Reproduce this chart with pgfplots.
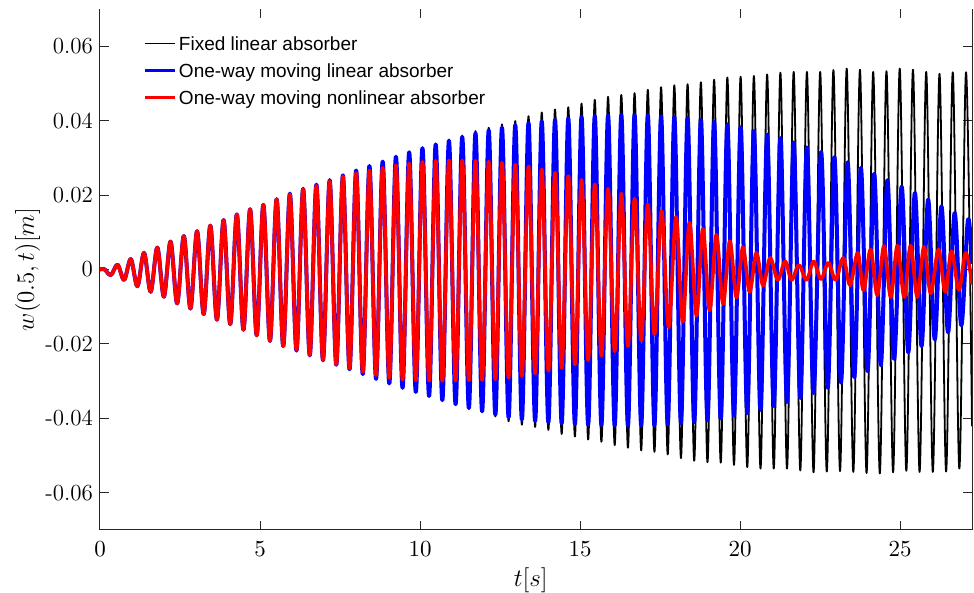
\RequirePackage{fix-cm}
\documentclass[border=0pt]{standalone}
\usepackage{fontspec}
\usepackage{pgfplots}
\pgfplotsset{compat=1.18}
\newfontfamily\legendfont{Liberation Sans}

\begin{document}
\begin{tikzpicture}
\begin{axis}[
  at={(0,0)}, anchor=south west,
  scale only axis, width=436pt, height=260.5pt,
  xmin=0, xmax=27.25, ymin=-0.07, ymax=0.07,
  xtick={0,5,10,15,20,25},
  ytick={-0.06,-0.04,-0.02,0,0.02,0.04,0.06},
  yticklabels={-0.06,-0.04,-0.02,0,0.02,0.04,0.06},
  scaled y ticks=false,
  tick align=inside,
  major tick length=4.5pt,
  axis line style={draw=none},
  every tick/.style={line width=0.5pt, black!85},
  tick label style={font=\fontsize{11.5}{13}\selectfont},
  xticklabel style={yshift=-2.5pt},
  xlabel={$t[s]$}, ylabel={$w(0.5,t)[m]$},
  label style={font=\fontsize{12.5}{14}\selectfont},
  xlabel style={at={(axis description cs:0.494,0)}, anchor=base, yshift=-28.5pt},
  ylabel style={at={(axis description cs:-0.0757,0.5)}, anchor=base},
  legend style={at={(axis description cs:0,1)}, anchor=north west,
    xshift=21.5pt, yshift=-11.9pt, draw=none, fill=none, inner sep=0pt,
    font=\legendfont\fontsize{9.5}{11}\selectfont,
    nodes={inner sep=0.5pt, text height=8pt, text depth=1.2pt},
    row sep=3.3pt, column sep=0.8pt},
  legend cell align=left,
  legend image code/.code={\draw[line cap=butt, #1] (0pt,0pt) -- (15pt,0pt);},
  every axis plot/.append style={smooth, tension=0.55, line join=round, line cap=round},
  after end axis/.code={
    \draw[line width=0.5pt, black!85] (rel axis cs:0,1) -- (rel axis cs:0,0)
      -- (rel axis cs:1,0) -- (rel axis cs:1,1);
  },
]

% fixed linear absorber
\addplot[black, line width=0.9pt, legend image post style={line width=0.6pt}] coordinates {
(0,0)
(0.134,0.0001) (0.341,-0.0015)
(0.548,0.0013) (0.755,-0.0028)
(0.963,0.0028) (1.170,-0.0045)
(1.377,0.0045) (1.584,-0.0060)
(1.791,0.0059) (1.998,-0.0073)
(2.205,0.0075) (2.412,-0.0091)
(2.620,0.0090) (2.827,-0.0105)
(3.034,0.0103) (3.241,-0.0120)
(3.448,0.0118) (3.655,-0.0135)
(3.863,0.0133) (4.070,-0.0147)
(4.277,0.0148) (4.484,-0.0162)
(4.691,0.0162) (4.898,-0.0177)
(5.105,0.0174) (5.312,-0.0192)
(5.520,0.0189) (5.727,-0.0206)
(5.934,0.0204) (6.141,-0.0218)
(6.348,0.0217) (6.555,-0.0231)
(6.762,0.0228) (6.969,-0.0244)
(7.177,0.0240) (7.384,-0.0256)
(7.591,0.0253) (7.798,-0.0268)
(8.005,0.0266) (8.212,-0.0281)
(8.420,0.0278) (8.627,-0.0294)
(8.834,0.0290) (9.041,-0.0306)
(9.248,0.0303) (9.455,-0.0318)
(9.662,0.0315) (9.869,-0.0329)
(10.077,0.0326) (10.284,-0.0340)
(10.491,0.0338) (10.698,-0.0353)
(10.905,0.0349) (11.112,-0.0364)
(11.320,0.0360) (11.527,-0.0375)
(11.734,0.0372) (11.941,-0.0383)
(12.148,0.0381) (12.355,-0.0395)
(12.562,0.0390) (12.769,-0.0408)
(12.977,0.0399) (13.184,-0.0417)
(13.391,0.0412) (13.598,-0.0423)
(13.805,0.0422) (14.012,-0.0431)
(14.220,0.0430) (14.427,-0.0442)
(14.634,0.0436) (14.841,-0.0449)
(15.048,0.0446) (15.255,-0.0457)
(15.462,0.0456) (15.669,-0.0463)
(15.877,0.0464) (16.084,-0.0472)
(16.291,0.0469) (16.498,-0.0479)
(16.705,0.0474) (16.912,-0.0486)
(17.119,0.0483) (17.326,-0.0490)
(17.534,0.0490) (17.741,-0.0497)
(17.948,0.0495) (18.155,-0.0507)
(18.362,0.0498) (18.569,-0.0514)
(18.777,0.0503) (18.984,-0.0518)
(19.191,0.0510) (19.398,-0.0519)
(19.605,0.0516) (19.812,-0.0525)
(20.019,0.0518) (20.226,-0.0531)
(20.434,0.0520) (20.641,-0.0535)
(20.848,0.0524) (21.055,-0.0535)
(21.262,0.0529) (21.469,-0.0535)
(21.677,0.0531) (21.884,-0.0540)
(22.091,0.0531) (22.298,-0.0545)
(22.505,0.0531) (22.712,-0.0543)
(22.919,0.0536) (23.126,-0.0542)
(23.334,0.0540) (23.541,-0.0544)
(23.748,0.0537) (23.955,-0.0547)
(24.162,0.0531) (24.369,-0.0548)
(24.577,0.0533) (24.784,-0.0545)
(24.991,0.0540) (25.198,-0.0541)
(25.405,0.0537) (25.612,-0.0544)
(25.819,0.0531) (26.026,-0.0544)
(26.234,0.0526) (26.441,-0.0543)
(26.648,0.0530) (26.855,-0.0535)
(27.062,0.0530) (27.25,-0.0420)
};
\addlegendentry{Fixed linear absorber}

% one-way moving linear absorber
\addplot[blue, line width=2pt, legend image post style={line width=1.5pt}] coordinates {
(0,0)
(0.134,0.0001) (0.341,-0.0015)
(0.548,0.0013) (0.755,-0.0028)
(0.963,0.0028) (1.170,-0.0045)
(1.377,0.0045) (1.584,-0.0060)
(1.791,0.0059) (1.998,-0.0073)
(2.205,0.0075) (2.412,-0.0091)
(2.620,0.0090) (2.827,-0.0105)
(3.034,0.0103) (3.241,-0.0120)
(3.448,0.0118) (3.655,-0.0135)
(3.863,0.0133) (4.070,-0.0147)
(4.277,0.0148) (4.484,-0.0162)
(4.691,0.0162) (4.898,-0.0177)
(5.105,0.0174) (5.312,-0.0192)
(5.520,0.0189) (5.727,-0.0206)
(5.934,0.0204) (6.141,-0.0218)
(6.348,0.0217) (6.555,-0.0231)
(6.762,0.0228) (6.969,-0.0244)
(7.177,0.0240) (7.384,-0.0256)
(7.591,0.0253) (7.798,-0.0268)
(8.005,0.0266) (8.212,-0.0281)
(8.420,0.0278) (8.627,-0.0294)
(8.834,0.0290) (9.041,-0.0306)
(9.248,0.0303) (9.455,-0.0318)
(9.662,0.0315) (9.869,-0.0329)
(10.077,0.0326) (10.284,-0.0340)
(10.491,0.0336) (10.698,-0.0351)
(10.905,0.0346) (11.112,-0.0362)
(11.320,0.0356) (11.527,-0.0372)
(11.734,0.0366) (11.941,-0.0381)
(12.148,0.0374) (12.355,-0.0390)
(12.562,0.0381) (12.769,-0.0397)
(12.977,0.0388) (13.184,-0.0403)
(13.391,0.0394) (13.598,-0.0407)
(13.805,0.0398) (14.012,-0.0410)
(14.220,0.0402) (14.427,-0.0413)
(14.634,0.0406) (14.841,-0.0415)
(15.048,0.0410) (15.255,-0.0417)
(15.462,0.0412) (15.669,-0.0418)
(15.877,0.0414) (16.084,-0.0419)
(16.291,0.0415) (16.498,-0.0419)
(16.705,0.0415) (16.912,-0.0419)
(17.119,0.0414) (17.326,-0.0418)
(17.534,0.0412) (17.741,-0.0416)
(17.948,0.0410) (18.155,-0.0413)
(18.362,0.0407) (18.569,-0.0410)
(18.777,0.0402) (18.984,-0.0405)
(19.191,0.0397) (19.398,-0.0400)
(19.605,0.0390) (19.812,-0.0393)
(20.019,0.0382) (20.226,-0.0386)
(20.434,0.0372) (20.641,-0.0377)
(20.848,0.0363) (21.055,-0.0367)
(21.262,0.0353) (21.469,-0.0356)
(21.677,0.0341) (21.884,-0.0345)
(22.091,0.0328) (22.298,-0.0332)
(22.535,0.0316) (22.742,-0.0318)
(22.949,0.0302) (23.156,-0.0304)
(23.364,0.0288) (23.571,-0.0289)
(23.778,0.0273) (23.985,-0.0273)
(24.192,0.0257) (24.399,-0.0257)
(24.607,0.0240) (24.814,-0.0240)
(25.051,0.0223) (25.258,-0.0223)
(25.465,0.0206) (25.672,-0.0206)
(25.879,0.0188) (26.086,-0.0188)
(26.294,0.0170) (26.501,-0.0169)
(26.708,0.0152) (26.915,-0.0150)
(27.122,0.0133) (27.25,0.0020)
};
\addlegendentry{One-way moving linear absorber}

% one-way moving nonlinear absorber
\addplot[red, line width=1.8pt, legend image post style={line width=1.5pt}] coordinates {
(0,0)
(0.134,0.0001) (0.341,-0.0015)
(0.548,0.0013) (0.755,-0.0028)
(0.963,0.0028) (1.170,-0.0045)
(1.377,0.0045) (1.584,-0.0060)
(1.791,0.0059) (1.998,-0.0073)
(2.205,0.0075) (2.412,-0.0091)
(2.620,0.0090) (2.827,-0.0105)
(3.034,0.0103) (3.241,-0.0120)
(3.448,0.0118) (3.655,-0.0135)
(3.863,0.0133) (4.070,-0.0147)
(4.277,0.0148) (4.484,-0.0162)
(4.691,0.0162) (4.898,-0.0177)
(5.105,0.0174) (5.312,-0.0192)
(5.520,0.0189) (5.727,-0.0206)
(5.934,0.0202) (6.141,-0.0216)
(6.348,0.0216) (6.555,-0.0230)
(6.762,0.0225) (6.969,-0.0243)
(7.177,0.0237) (7.384,-0.0255)
(7.591,0.0250) (7.798,-0.0265)
(8.005,0.0259) (8.212,-0.0275)
(8.420,0.0266) (8.627,-0.0284)
(8.834,0.0273) (9.041,-0.0291)
(9.248,0.0280) (9.455,-0.0296)
(9.662,0.0285) (9.869,-0.0298)
(10.077,0.0289) (10.284,-0.0299)
(10.491,0.0292) (10.698,-0.0299)
(10.905,0.0293) (11.112,-0.0299)
(11.320,0.0293) (11.527,-0.0298)
(11.734,0.0292) (11.941,-0.0297)
(12.148,0.0290) (12.355,-0.0295)
(12.562,0.0287) (12.769,-0.0291)
(12.977,0.0282) (13.184,-0.0286)
(13.391,0.0277) (13.598,-0.0279)
(13.805,0.0269) (14.012,-0.0272)
(14.220,0.0260) (14.427,-0.0265)
(14.634,0.0251) (14.841,-0.0255)
(15.048,0.0241) (15.255,-0.0244)
(15.462,0.0229) (15.669,-0.0232)
(15.877,0.0217) (16.084,-0.0220)
(16.291,0.0204) (16.498,-0.0206)
(16.705,0.0190) (16.912,-0.0191)
(17.119,0.0175) (17.326,-0.0174)
(17.55,0.0157) (17.77,-0.0155)
(18.00,0.0141) (18.21,-0.0140)
(18.42,0.0126) (18.64,-0.0124)
(18.84,0.0109) (19.05,-0.0110)
(19.26,0.0093) (19.47,-0.0092)
(19.68,0.0076) (19.89,-0.0075)
(20.09,0.0060) (20.30,-0.0060)
(20.51,0.0045) (20.72,-0.0043)
(20.94,0.0031) (21.18,-0.0028)
(21.41,0.0022) (21.61,-0.0028)
(21.84,0.0012) (22.08,-0.0028)
(22.30,0.0022) (22.53,-0.0026)
(22.76,0.0018) (22.99,-0.0028)
(23.23,0.0031) (23.44,-0.0042)
(23.68,0.0045) (23.86,-0.0056)
(24.08,0.0054) (24.29,-0.0069)
(24.50,0.0063) (24.71,-0.0074)
(24.92,0.0064) (25.13,-0.0074)
(25.33,0.0064) (25.54,-0.0074)
(25.75,0.0061) (25.96,-0.0064)
(26.20,0.0054) (26.41,-0.0060)
(26.61,0.0049) (26.84,-0.0055)
(27.05,0.0045) (27.25,-0.0037)
};
\addlegendentry{One-way moving nonlinear absorber}

\end{axis}
\pgfresetboundingbox
\useasboundingbox (-50pt,-31.5pt) rectangle (437pt,265pt);
\end{tikzpicture}
\end{document}
